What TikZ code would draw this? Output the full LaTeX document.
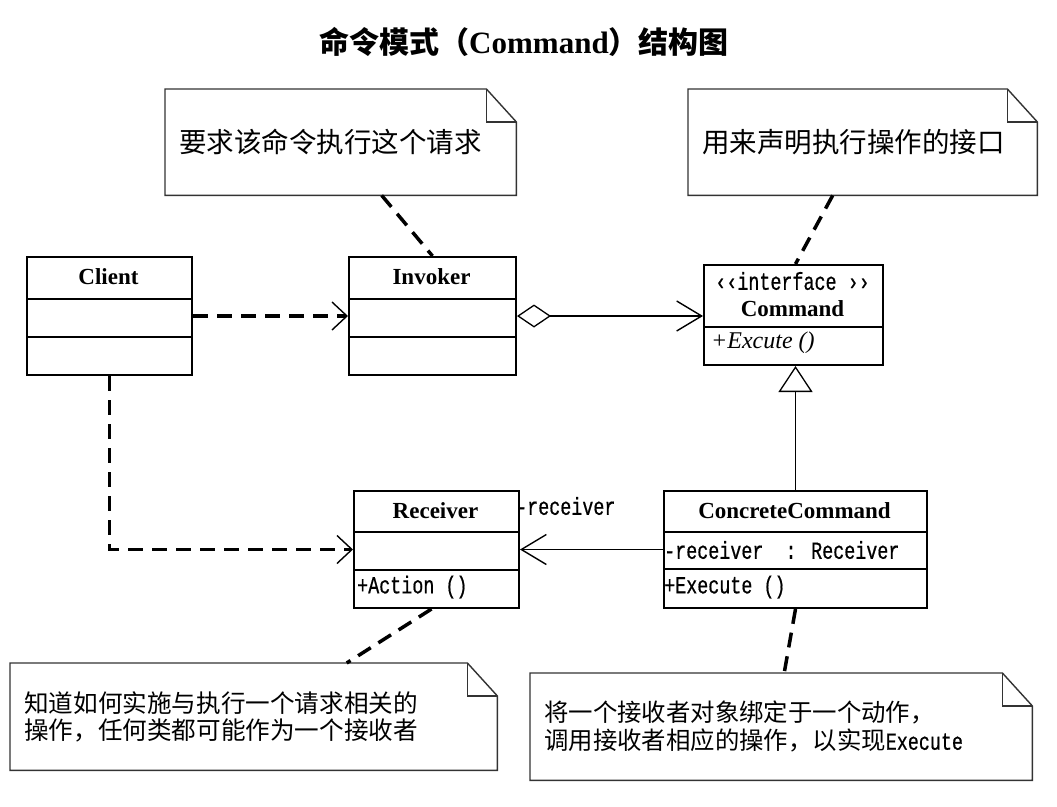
\documentclass[tikz,border=0pt]{standalone}
\usepackage{fontspec}
\setmainfont{Liberation Serif}
\newfontfamily\cjk{Noto Sans CJK SC}
\newfontfamily\umlmono[FakeStretch=0.75, FakeBold=0.6]{Liberation Mono}
\usetikzlibrary{arrows.meta}

\begin{document}
\begin{tikzpicture}[
  x=1pt, y=-1pt,
  cls/.style={draw, line width=2pt, anchor=north west, inner sep=0pt},
  clsname/.style={font=\fontsize{23}{27}\selectfont\bfseries, inner sep=0pt},
  member/.style={font=\umlmono\fontsize{24.5}{27}\selectfont, inner sep=0pt, anchor=west},
  note/.style={anchor=north west, align=left, inner xsep=14pt, inner ysep=0pt},
  sepline/.style={line width=2pt},
  noteline/.style={line width=1.4pt, draw=black!80},
  dep/.style={line width=3.5pt, dash pattern=on 15pt off 9pt,
    -{Straight Barb[length=15pt, width=28pt, line width=1.4pt]}},
  attach/.style={line width=3.5pt, dash pattern=on 15pt off 9pt},
  assoc/.style={line width=1.3pt, -{Straight Barb[length=25pt, width=30pt, line width=1.4pt]}}
]

\fill[white] (0,0) rectangle (1057,806);

\node (title) at (524,42)
  {\cjk\fontsize{30}{34}\selectfont\bfseries 命令模式（{\rmfamily\fontsize{31}{34}\selectfont\bfseries Command}）结构图};

% notes
\node[note, text width=323pt, minimum height=106pt, font=\cjk\fontsize{27.5}{31}\selectfont] (rq) at (165,89)
  {要求该命令执行这个请求};
\node[note, text width=321pt, minimum height=106pt, font=\cjk\fontsize{27.5}{31}\selectfont] (itf) at (688,89)
  {用来声明执行操作的接口};
\node[note, text width=459pt, minimum height=107pt, font=\cjk\fontsize{24.6}{26.5}\selectfont] (act) at (10,663)
  {知道如何实施与执行一个请求相关的\\操作，任何类都可能作为一个接收者};
\node[note, text width=474pt, minimum height=107pt, font=\cjk\fontsize{24.4}{28}\selectfont] (bind) at (530,673)
  {将一个接收者对象绑定于一个动作，\\调用接收者相应的操作，以实现{\umlmono\fontsize{24.5}{27}\selectfont Execute}};

\foreach \n in {rq, itf, act, bind} {
  \draw[noteline] (\n.north west) -- ([xshift=-30pt]\n.north east) -- ([yshift=-33pt]\n.north east)
    -- (\n.south east) -- (\n.south west) -- cycle;
  \draw[noteline] ([xshift=-30pt]\n.north east) |- ([yshift=-33pt]\n.north east);
}

% classes
\node[cls, minimum width=165pt, minimum height=118pt] (client) at (26,256) {};
\node[cls, minimum width=167pt, minimum height=118pt] (invoker) at (348,256) {};
\node[cls, minimum width=179pt, minimum height=100pt] (command) at (703,264) {};
\node[cls, minimum width=165pt, minimum height=117pt] (receiver) at (353,490) {};
\node[cls, minimum width=263pt, minimum height=117pt] (cc) at (663,490) {};

\foreach \c/\a/\b in {client/43/81, invoker/43/81, receiver/42/80, cc/42/79} {
  \draw[sepline] ([yshift=-\a pt]\c.north west) -- ([yshift=-\a pt]\c.north east);
  \draw[sepline] ([yshift=-\b pt]\c.north west) -- ([yshift=-\b pt]\c.north east);
}
\draw[sepline] ([yshift=-63pt]command.north west) -- ([yshift=-63pt]command.north east);

\node[clsname] (clientname) at (108.5,277) {Client};
\node[clsname] (invokername) at (431.5,277) {Invoker};
\node[member, anchor=center] (stereo) at (792.5,281) {‹‹interface ››};
\node[clsname] (commandname) at (792.5,309) {Command};
\node[inner sep=0pt, anchor=west, font=\fontsize{24}{27}\selectfont\itshape] (excute) at (711,343) {+Excute ()};
\node[clsname] (receivername) at (435.5,511) {Receiver};
\node[member] (action) at (357,587) {+Action ()};
\node[clsname] (ccname) at (794.5,511) {ConcreteCommand};
\node[member] (field) at (664,550) {-receiver\ \ : Receiver};
\node[member] (execute) at (664,587) {+Execute ()};
\node[member] (role) at (516,506) {-receiver};

% connectors
\draw[dep] (client.east) -- (invoker.west);
\draw[line width=1.3pt, {Diamond[open, length=34pt, width=23pt, line width=1.3pt]}-{Straight Barb[length=25pt, width=30pt, line width=1.4pt]}]
  (invoker.east) -- (invoker.east -| command.west);
\draw[line width=1.3pt, -{Triangle[open, length=26pt, width=34pt, line width=1.3pt]}]
  (cc.north) -- (cc.north |- command.south);
\draw[dep] (client.south) |- (receiver.west);
\draw[assoc] (cc.west) -- (receiver.east);

\draw[attach] ([xshift=41pt]rq.south) -- (invoker.north);
\draw[attach] ([xshift=-30pt]itf.south) -- ([xshift=2pt]command.north);
\draw[attach] ([xshift=-5pt]receiver.south) -- ([xshift=93pt]act.north);
\draw[attach] (cc.south) -- ([xshift=3pt]bind.north);

\end{tikzpicture}
\end{document}
